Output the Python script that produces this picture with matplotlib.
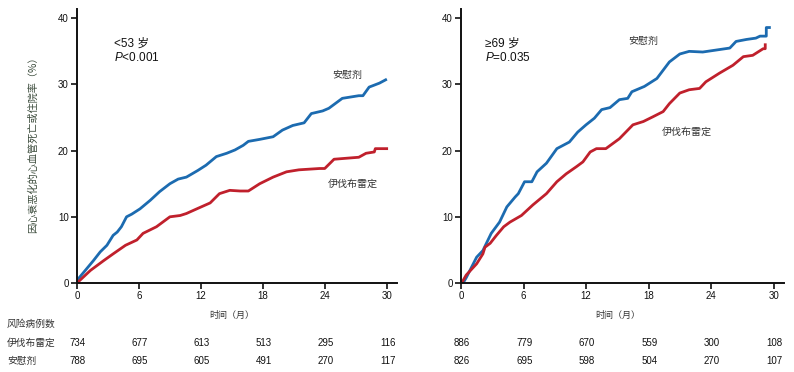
import matplotlib
matplotlib.use("Agg")
import matplotlib.pyplot as plt
from matplotlib.transforms import blended_transform_factory

plt.rcParams['font.family'] = ['Liberation Sans', 'Noto Sans CJK SC', 'DejaVu Sans']
plt.rcParams['mathtext.fontset'] = 'custom'
plt.rcParams['mathtext.it'] = 'Liberation Sans:italic'
plt.rcParams['mathtext.rm'] = 'Liberation Sans'

# ---- data: left panel (<53 岁) ----
left_placebo_x = [0, 0.8, 1.6, 2.25, 2.9, 3.5, 3.9, 4.3, 4.8, 5.3, 6.1, 7.1, 8.0, 9.0, 9.8, 10.6,
                  11.7, 12.5, 13.5, 14.5, 15.3, 16.1, 16.6, 17.7, 19.0, 19.9, 20.9, 22.0, 22.7,
                  23.8, 24.4, 25.7, 27.3, 27.7, 28.3, 29.3, 29.9]
left_placebo_y = [0.4, 1.9, 3.4, 4.7, 5.7, 7.2, 7.7, 8.5, 10.0, 10.4, 11.2, 12.5, 13.8, 15.0, 15.7,
                  16.0, 17.0, 17.8, 19.1, 19.6, 20.1, 20.8, 21.4, 21.7, 22.1, 23.1, 23.8, 24.2,
                  25.6, 26.0, 26.4, 27.9, 28.3, 28.3, 29.6, 30.2, 30.7]
left_ivab_x = [0, 1.3, 2.6, 3.5, 4.7, 5.8, 6.4, 7.7, 9.0, 10.0, 10.6, 11.6, 12.9, 13.8, 14.8, 15.8,
               16.6, 17.7, 19.0, 20.3, 21.5, 23.5, 24.0, 24.9, 27.3, 28.0, 28.8, 28.9, 30.0]
left_ivab_y = [0, 1.9, 3.4, 4.4, 5.7, 6.5, 7.5, 8.5, 10.0, 10.2, 10.5, 11.2, 12.1, 13.5, 14.0, 13.9,
               13.9, 15.0, 16.0, 16.8, 17.1, 17.3, 17.3, 18.7, 19.0, 19.6, 19.8, 20.3, 20.3]

# ---- data: right panel (≥69 岁) ----
right_placebo_x = [0.2, 0.5, 1.5, 2.1, 2.9, 3.7, 4.4, 5.2, 5.5, 6.1, 6.8, 7.3, 8.2, 9.2, 10.4, 11.2,
                   12.0, 12.8, 13.5, 14.3, 15.2, 16.0, 16.4, 17.6, 18.8, 20.0, 21.0, 21.9, 23.2,
                   24.5, 25.8, 26.4, 27.4, 28.3, 28.7, 29.3, 29.3, 29.6]
right_placebo_y = [0, 0.8, 3.9, 4.9, 7.5, 9.2, 11.5, 13.0, 13.5, 15.3, 15.3, 16.8, 18.1, 20.3, 21.3,
                   22.8, 23.9, 24.9, 26.2, 26.5, 27.7, 27.9, 28.9, 29.7, 30.9, 33.4, 34.6, 35.0,
                   34.9, 35.2, 35.5, 36.5, 36.8, 37.0, 37.3, 37.3, 38.6, 38.6]
right_ivab_x = [0.06, 0.5, 1.5, 2.1, 2.3, 2.8, 3.4, 4.1, 4.7, 5.8, 6.9, 8.2, 9.2, 10.1, 11.1, 11.7,
                12.4, 13.0, 13.9, 15.2, 16.5, 17.5, 18.4, 19.4, 20.0, 21.0, 21.9, 22.9, 23.5,
                24.8, 26.1, 27.1, 28.0, 29.0, 29.2, 29.2]
right_ivab_y = [0, 1.2, 2.9, 4.4, 5.4, 6.0, 7.2, 8.5, 9.2, 10.2, 11.8, 13.5, 15.3, 16.5, 17.6, 18.3,
                19.8, 20.3, 20.3, 21.8, 23.9, 24.4, 25.1, 25.9, 27.1, 28.7, 29.2, 29.4, 30.4,
                31.7, 32.9, 34.2, 34.4, 35.4, 35.4, 36.0]

xticks = [0, 6, 12, 18, 24, 30]
yticks = [0, 10, 20, 30, 40]
left_risk_ivab = [734, 677, 613, 513, 295, 116]
left_risk_placebo = [788, 695, 605, 491, 270, 117]
right_risk_ivab = [886, 779, 670, 559, 300, 108]
right_risk_placebo = [826, 695, 598, 504, 270, 107]

BLUE = '#1c6bb0'
RED = '#c0202c'
TXT = '#333333'
CJK = ['Noto Sans CJK SC', 'DejaVu Sans']

W, H = 794, 372
fig = plt.figure(figsize=(W / 100, H / 100), dpi=100)

def make_ax(x0, x1, y_bottom=283, y_top=9):
    return fig.add_axes([x0 / W, 1 - y_bottom / H, (x1 - x0) / W, (y_bottom - y_top) / H])

axL = make_ax(77, 397)
axR = make_ax(461, 784)

for ax in (axL, axR):
    ax.set_xlim(0, 31)
    ax.set_ylim(0, 41.4)
    ax.set_xticks(xticks)
    ax.set_yticks(yticks)
    for s in ('top', 'right'):
        ax.spines[s].set_visible(False)
    for s in ('left', 'bottom'):
        ax.spines[s].set_linewidth(1.4)
        ax.spines[s].set_color('#111111')
    ax.tick_params(direction='out', length=4, width=1.2, labelsize=7, pad=2, colors='#111111')
    ax.patch.set_alpha(0)

axL.plot(left_placebo_x, left_placebo_y, color=BLUE, lw=2.0, solid_joinstyle='round')
axL.plot(left_ivab_x, left_ivab_y, color=RED, lw=2.0, solid_joinstyle='round')
axR.plot(right_placebo_x, right_placebo_y, color=BLUE, lw=2.0, solid_joinstyle='round')
axR.plot(right_ivab_x, right_ivab_y, color=RED, lw=2.0, solid_joinstyle='round')

# annotations
axL.text(3.6, 36.2, '<53 岁', fontsize=8.5, color='#111111', va='center', family=['Liberation Sans', 'Noto Sans CJK SC'])
axL.text(3.6, 34.0, '$\\it{P}$<0.001', fontsize=8.5, color='#111111', va='center')
axL.text(24.7, 31.4, '安慰剂', fontsize=7.2, color=TXT, va='center', family=CJK)
axL.text(24.3, 15.0, '伊伐布雷定', fontsize=7.2, color=TXT, va='center', family=CJK)

axR.text(2.3, 36.2, '≥69 岁', fontsize=8.5, color='#111111', va='center', family=['Liberation Sans', 'Noto Sans CJK SC'])
axR.text(2.3, 34.0, '$\\it{P}$=0.035', fontsize=8.5, color='#111111', va='center')
axR.text(16.1, 36.5, '安慰剂', fontsize=7.2, color=TXT, va='center', family=CJK)
axR.text(19.3, 22.8, '伊伐布雷定', fontsize=7.2, color=TXT, va='center', family=CJK)

# y label
fig.text(33 / W, 1 - 142 / H, '因心衰恶化的心血管死亡或住院率（%）', rotation=90, fontsize=7.3,
         color='#3a4a3a', ha='center', va='center', family=CJK)

# x labels and risk table
def fy(py):
    return 1 - py / H

for ax, ri, rp in ((axL, left_risk_ivab, left_risk_placebo), (axR, right_risk_ivab, right_risk_placebo)):
    tr = blended_transform_factory(ax.transData, fig.transFigure)
    ax.text(15, fy(315), '时间（月）', transform=tr, ha='center', va='center', fontsize=6.5, color=TXT, family=CJK)
    for x, a, b in zip(xticks, ri, rp):
        ax.text(x + 0.1, fy(343), str(a), transform=tr, ha='center', va='center', fontsize=7, color='#111111')
        ax.text(x + 0.1, fy(361), str(b), transform=tr, ha='center', va='center', fontsize=7, color='#111111')

fig.text(7 / W, fy(324), '风险病例数', fontsize=7, color=TXT, va='center', family=CJK)
fig.text(7 / W, fy(343), '伊伐布雷定', fontsize=7, color=TXT, va='center', family=CJK)
fig.text(7 / W, fy(361), '安慰剂', fontsize=7, color=TXT, va='center', family=CJK)

fig.savefig('out.png', dpi=100)
